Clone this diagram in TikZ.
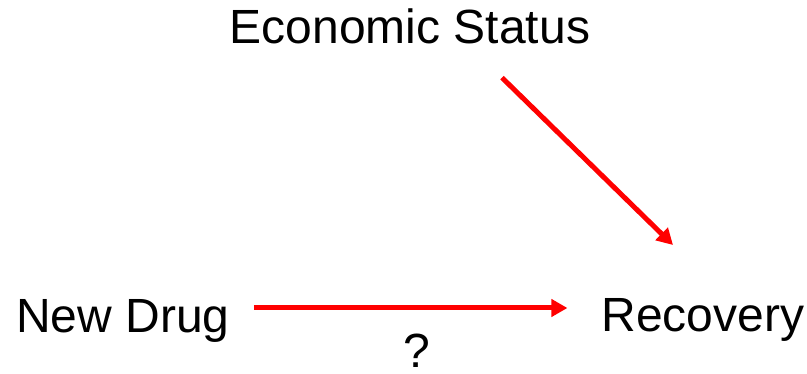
\documentclass[tikz,border=0pt]{standalone}
\usepackage{fontspec}
\setmainfont{Liberation Sans}
\usepackage{xcolor}
\usetikzlibrary{arrows.meta,positioning,calc}
\definecolor{causalred}{RGB}{255, 0, 0}

\tikzset{
    varlabel/.style={inner sep=0pt, anchor=base, font=\fontsize{48}{58}\selectfont},
    causalarrow/.style={line width=5pt, color=causalred, -{Triangle[length=16pt, width=17pt]}}
}

\begin{document}
\begin{tikzpicture}[x=1pt, y=-1pt]
    % Canvas
    \useasboundingbox (0,0) rectangle (807,374);

    % Variables
    \node[varlabel] (econ) at (410,44) {Economic Status};
    \node[varlabel] (drug) at (123,333) {New Drug};
    \node[varlabel] (recov) at (703,332) {Recovery};

    % Confounder arrow: Economic Status to Recovery
    \draw[causalarrow] ([shift={(92,33)}]econ.south) -- ([shift={(-30,-87)}]recov.base);

    % Treatment arrow: New Drug to Recovery (effect unknown)
    \draw[causalarrow] ([shift={(24,-25)}]drug.base east) -- ([shift={(-34,-24)}]recov.base west)
        node[pos=0.52, varlabel, yshift=-60pt, text=black] (unknown) {?};
\end{tikzpicture}
\end{document}
